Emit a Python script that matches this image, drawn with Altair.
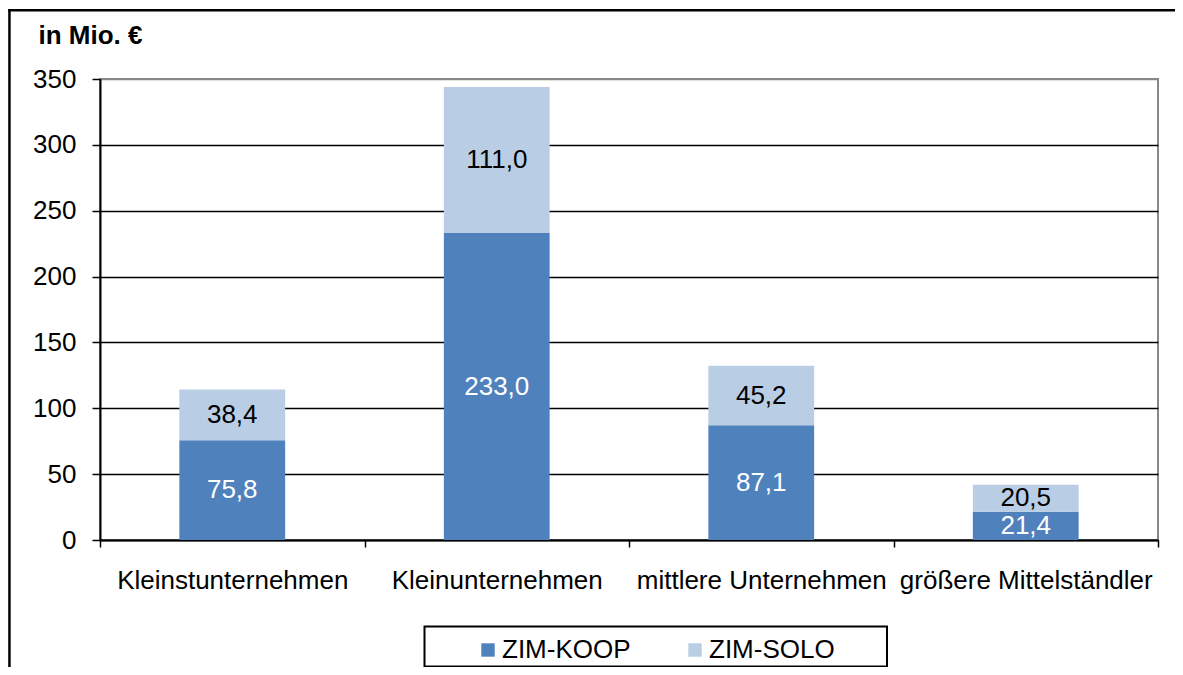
import altair as alt
import pandas as pd

categories = ["Kleinstunternehmen", "Kleinunternehmen", "mittlere Unternehmen", "größere Mittelständler"]
series = ["ZIM-KOOP", "ZIM-SOLO"]
koop = [75.8, 233.0, 87.1, 21.4]
solo = [38.4, 111.0, 45.2, 20.5]
colors = ["#4F81BD", "#B9CDE5"]
y_ticks = [0, 50, 100, 150, 200, 250, 300, 350]

rows = []
for i, c in enumerate(categories):
    for j, (s, vals) in enumerate(zip(series, [koop, solo])):
        rows.append({"cat": c, "series": s, "idx": j, "value": vals[i],
                     "label": f"{vals[i]:.1f}".replace(".", ",")})
df = pd.DataFrame(rows)

FONT = "Liberation Sans"
W, H = 1058, 461

x_scale = alt.Scale(paddingInner=0, paddingOuter=0)
x_enc = alt.X(
    "cat:N", sort=categories, scale=x_scale,
    axis=alt.Axis(title=None, labelAngle=0, labelFontSize=26, labelFont=FONT,
                  labelColor="black", labelPadding=20, labelLimit=400,
                  tickBand="extent", tickSize=7, tickColor="black", tickWidth=1.5,
                  domainColor="black", domainWidth=2, grid=False),
)

y_scale = alt.Scale(domain=[0, 350], nice=False)

bars = alt.Chart(df).mark_bar(width=alt.RelativeBandSize(0.4)).encode(
    x=x_enc,
    y=alt.Y(
        "value:Q", stack="zero", scale=y_scale,
        axis=alt.Axis(values=y_ticks, title="in Mio. €", titleAngle=0, titleX=-62, titleY=-36,
                      titleAlign="left", titleBaseline="alphabetic", titleFontSize=26,
                      titleFontWeight="bold", titleFont=FONT, titleColor="black",
                      labelFontSize=26, labelFont=FONT, labelColor="black", labelPadding=16,
                      tickSize=8, tickColor="black", tickWidth=1.5,
                      domainColor="black", domainWidth=2,
                      gridColor={"condition": {"test": "datum.value === 350", "value": "#888888"},
                                 "value": "black"},
                      gridWidth=1.5),
    ),
    color=alt.Color(
        "series:N",
        scale=alt.Scale(domain=series, range=colors),
        legend=alt.Legend(title=None, orient="none", legendX=375, legendY=558,
                          direction="horizontal", symbolType="square", symbolSize=180,
                          symbolStrokeWidth=0, labelFontSize=26, labelFont=FONT,
                          labelColor="black", labelOffset=1, columnPadding=51, padding=0),
    ),
    order=alt.Order("idx:Q", sort="ascending"),
)

labels = alt.Chart(df).transform_stack(
    stack="value", as_=["v0", "v1"], groupby=["cat"], sort=[alt.SortField("idx", order="ascending")]
).transform_calculate(
    mid="(datum.v0 + datum.v1) / 2"
).mark_text(font=FONT, fontSize=26, baseline="middle", align="center").encode(
    x=alt.X("cat:N", sort=categories, scale=x_scale),
    y=alt.Y("mid:Q", scale=y_scale),
    text="label:N",
    color=alt.condition("datum.idx == 0", alt.value("white"), alt.value("black")),
)

legend_box = alt.Chart(alt.Data(values=[{"a": 1}])).mark_rect(
    filled=False, stroke="black", strokeWidth=2
).encode(x=alt.value(324.5), x2=alt.value(787), y=alt.value(547.5), y2=alt.value(587.5))

# outer frame drawn as thin filled bands (top and left)
outer_top = alt.Chart(alt.Data(values=[{"a": 1}])).mark_rect(
    filled=True, color="black", strokeWidth=0
).encode(x=alt.value(-91.8), x2=alt.value(1075), y=alt.value(-70), y2=alt.value(-67.5))

outer_left = alt.Chart(alt.Data(values=[{"a": 1}])).mark_rect(
    filled=True, color="black", strokeWidth=0
).encode(x=alt.value(-91.8), x2=alt.value(-89.3), y=alt.value(-70), y2=alt.value(588))

chart = alt.layer(bars, labels, legend_box, outer_top, outer_left).properties(
    width=W, height=H,
    padding={"left": 92, "top": 71, "right": 17, "bottom": 127},
    autosize=alt.AutoSizeParams(type="none"),
    background="white",
).configure_view(stroke="#888888", strokeWidth=2)

chart.save("out.html", embed_options={"renderer": "svg", "actions": False})
